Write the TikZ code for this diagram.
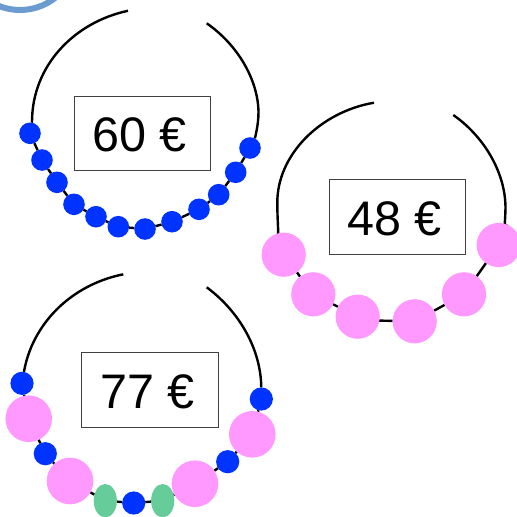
\documentclass[tikz,border=0pt]{standalone}
\usepackage{fontspec}
\setmainfont{Liberation Sans}
\usetikzlibrary{backgrounds,shapes.geometric}
\definecolor{beadblue}{HTML}{0033FF}
\definecolor{beadpink}{HTML}{FF99FF}
\definecolor{beadgreen}{HTML}{66CC99}
\definecolor{ringblue}{HTML}{6C9BCF}
\tikzset{
  wire/.style={draw=black,line width=2.4pt},
  smallbead/.style={circle,fill=beadblue,minimum size=21.6pt,inner sep=0pt,outer sep=0pt},
  midbead/.style={circle,fill=beadblue,minimum size=23.2pt,inner sep=0pt,outer sep=0pt},
  pinkbig/.style={circle,fill=beadpink,minimum size=44.2pt,inner sep=0pt,outer sep=0pt},
  pinklarge/.style={circle,fill=beadpink,minimum size=46.6pt,inner sep=0pt,outer sep=0pt},
  greenbead/.style={ellipse,fill=beadgreen,minimum width=23.2pt,minimum height=33.4pt,inner sep=0pt,outer sep=0pt},
  pricebox/.style={draw=black!75,line width=0.9pt,fill=white,minimum width=136.5pt,minimum height=74.5pt,inner sep=0pt},
  pricetext/.style={inner sep=0pt,font=\fontsize{48.5pt}{50pt}\selectfont},
}
\begin{document}
\begin{tikzpicture}[x=1pt,y=-1pt]
\useasboundingbox (0,0) rectangle (517,517);
\begin{scope}
\clip (0,0) rectangle (517,517);
% top-left ring fragment
\draw[ringblue,line width=6pt] (20,-47) circle[radius=57];

% necklace 60
\node[smallbead] (a1) at (30,133.3) {};
\node[smallbead] (a2) at (42,160) {};
\node[smallbead] (a3) at (57,182.3) {};
\node[smallbead] (a4) at (74,204.3) {};
\node[smallbead] (a5) at (96,216.7) {};
\node[smallbead] (a6) at (118.3,226.7) {};
\node[smallbead] (a7) at (145,229) {};
\node[smallbead] (a8) at (172,221.7) {};
\node[smallbead] (a9) at (199,209.3) {};
\node[smallbead] (a10) at (218.7,194.7) {};
\node[smallbead] (a11) at (235.7,172.3) {};
\node[smallbead] (a12) at (250,148) {};
\coordinate (aL) at (128,10.8);
\coordinate (aR) at (206.7,23.3);
\coordinate (aS) at (258.5,112);
\node[pricebox] (pa) at (142.3,133.5) {};
\node[pricetext] (ta) at (139.8,135.3) {60 €};

% necklace 48
\node[pinkbig] (b1) at (283.7,254.7) {};
\node[pinkbig] (b2) at (313.3,294.3) {};
\node[pinkbig] (b3) at (357.7,316.7) {};
\node[pinkbig] (b4) at (414.7,321.3) {};
\node[pinkbig] (b5) at (464,294.3) {};
\node[pinkbig] (b6) at (498.7,245) {};
\coordinate (bL) at (374,102.7);
\coordinate (bR) at (453.3,115);
\coordinate (bS) at (505.5,207);
\node[pricebox] (pb) at (397.2,216.8) {};
\node[pricetext] (tb) at (394.7,218.6) {48 €};

% necklace 77
\node[midbead] (c1) at (22,383.3) {};
\node[pinklarge] (c2) at (28.7,418.7) {};
\node[midbead] (c3) at (45.3,453.7) {};
\node[pinklarge] (c4) at (70,481) {};
\node[greenbead] (c5) at (105.3,500.7) {};
\node[midbead] (c6) at (133.7,503) {};
\node[greenbead] (c7) at (162.7,500.7) {};
\node[pinklarge] (c8) at (195,483.7) {};
\node[midbead] (c9) at (227.7,461.7) {};
\node[pinklarge] (c10) at (252.3,434.3) {};
\node[midbead] (c11) at (261.3,399) {};
\coordinate (cL) at (123.3,274.3);
\coordinate (cR) at (206.7,287.3);
\node[pricebox] (pc) at (150,389.8) {};
\node[pricetext] (tc) at (147.5,391.6) {77 €};

\begin{scope}[on background layer]
\draw[wire] (aL) .. controls (75,22) and (32,65) .. (32,122) -- (a1);
\draw[wire] (aR) .. controls (238,45) and (258,80) .. (aS) .. controls (258.5,125) and (255,138) .. (a12);
\foreach \p/\q in {a1/a2,a2/a3,a3/a4,a4/a5,a5/a6,a6/a7,a7/a8,a8/a9,a9/a10,a10/a11,a11/a12}
  \draw[wire] (\p) -- (\q);
\draw[wire] (bL) .. controls (320,112) and (277,155) .. (277.3,203) .. controls (277.3,220) and (279,238) .. (b1);
\draw[wire] (bR) .. controls (482,135) and (505,170) .. (bS) .. controls (505.5,220) and (503,235) .. (b6);
\foreach \p/\q in {b1/b2,b2/b3,b4/b5,b5/b6}
  \draw[wire] (\p) -- (\q);
\draw[wire] ([yshift=-3.5pt]b3.center) -- (b4);
\draw[wire] (cL) .. controls (70,285) and (32,325) .. (c1);
\draw[wire] (cR) .. controls (240,312) and (261,350) .. (c11);
\foreach \p/\q in {c1/c2,c2/c3,c3/c4,c4/c5,c5/c6,c6/c7,c7/c8,c8/c9,c9/c10,c10/c11}
  \draw[wire] (\p) -- (\q);
\end{scope}
\end{scope}
\end{tikzpicture}
\end{document}
